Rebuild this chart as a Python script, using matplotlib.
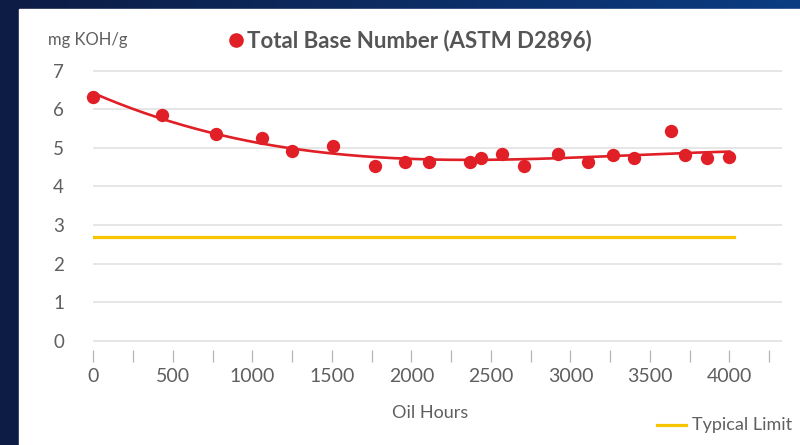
import numpy as np
import matplotlib
matplotlib.use("Agg")
import matplotlib.pyplot as plt
from matplotlib.lines import Line2D
from matplotlib.patches import Rectangle

# Total Base Number readings (ASTM D2896)
oil_hours = [0, 430, 770, 1060, 1250, 1510, 1770, 1960, 2110, 2370, 2440,
             2570, 2710, 2920, 3110, 3270, 3400, 3630, 3720, 3860, 4000]
tbn = [6.33, 5.85, 5.35, 5.25, 4.93, 5.05, 4.54, 4.63, 4.63, 4.64, 4.74,
       4.83, 4.53, 4.83, 4.64, 4.81, 4.73, 5.44, 4.81, 4.73, 4.75]
typical_limit = 2.7
limit_hours = [0, 4030]
x_labels = [0, 500, 1000, 1500, 2000, 2500, 3000, 3500, 4000]
y_labels = [0, 1, 2, 3, 4, 5, 6, 7]

red = "#e01f26"
yellow = "#f7c600"
grey = "#5f5f5f"

plt.rcParams["font.family"] = ["Lato", "DejaVu Sans"]

fig = plt.figure(figsize=(8, 4.45), dpi=100)

# dark blue backdrop with a slightly lighter top right
bg = fig.add_axes([0, 0, 1, 1], zorder=-10)
gx, gy = np.meshgrid(np.linspace(0, 1, 200), np.linspace(0, 1, 120))
bg.imshow(0.6 * gx * gy + 0.2 * gx, cmap=matplotlib.colors.LinearSegmentedColormap.from_list(
    "navy", ["#0d1c44", "#0b3c82"]), aspect="auto", origin="lower", extent=[0, 1, 0, 1])
bg.set_axis_off()
bg.add_patch(Rectangle((19 / 800, 0), 1, 436 / 445, color="white", transform=bg.transAxes))

ax = fig.add_axes([0.1166, 0.2128, 0.861, 0.6326])
ax.set_xlim(0, 4331)
ax.set_ylim(-0.25, 7.05)
for s in ax.spines.values():
    s.set_visible(False)
ax.set_facecolor("none")

ax.set_yticks(y_labels)
ax.grid(axis="y", color="#e4e4e4", linewidth=1.3)
ax.set_axisbelow(True)
ax.set_xticks(x_labels)
ax.set_xticks(np.arange(250, 4500, 500), minor=True)
ax.tick_params(axis="x", which="both", length=8.6, width=0.9, color="#b5b5b5",
               labelsize=14, labelcolor=grey, pad=4)
ax.tick_params(axis="y", length=0, labelsize=13.5, labelcolor=grey, pad=21)

# typical limit
ax.plot(limit_hours, [typical_limit] * 2, color=yellow, linewidth=2.3)

# trend line through the readings
coef = np.polyfit(oil_hours, tbn, 3)
xs = np.linspace(0, 4000, 200)
ax.plot(xs, np.polyval(coef, xs), color=red, linewidth=1.9, clip_on=False)
ax.scatter(oil_hours, tbn, s=92, color=red, zorder=3, clip_on=False, linewidths=0)

fig.text(48 / 800, 0.91, "mg KOH/g", fontsize=12, color=grey, va="center")
fig.add_artist(Line2D([236 / 800], [0.909], marker="o", markersize=9.5, color=red,
                      linestyle="none"))
fig.text(247 / 800, 0.909, "Total Base Number (ASTM D2896)", fontsize=16,
         fontweight="bold", color="#555555", va="center")
fig.text(430 / 800, 0.072, "Oil Hours", fontsize=13, color=grey, ha="center", va="center")
fig.add_artist(Line2D([657 / 800, 686 / 800], [0.045, 0.045], color=yellow, linewidth=2.3))
fig.text(692 / 800, 0.045, "Typical Limit", fontsize=13, color=grey, va="center")

fig.savefig("out.png", dpi=100)
